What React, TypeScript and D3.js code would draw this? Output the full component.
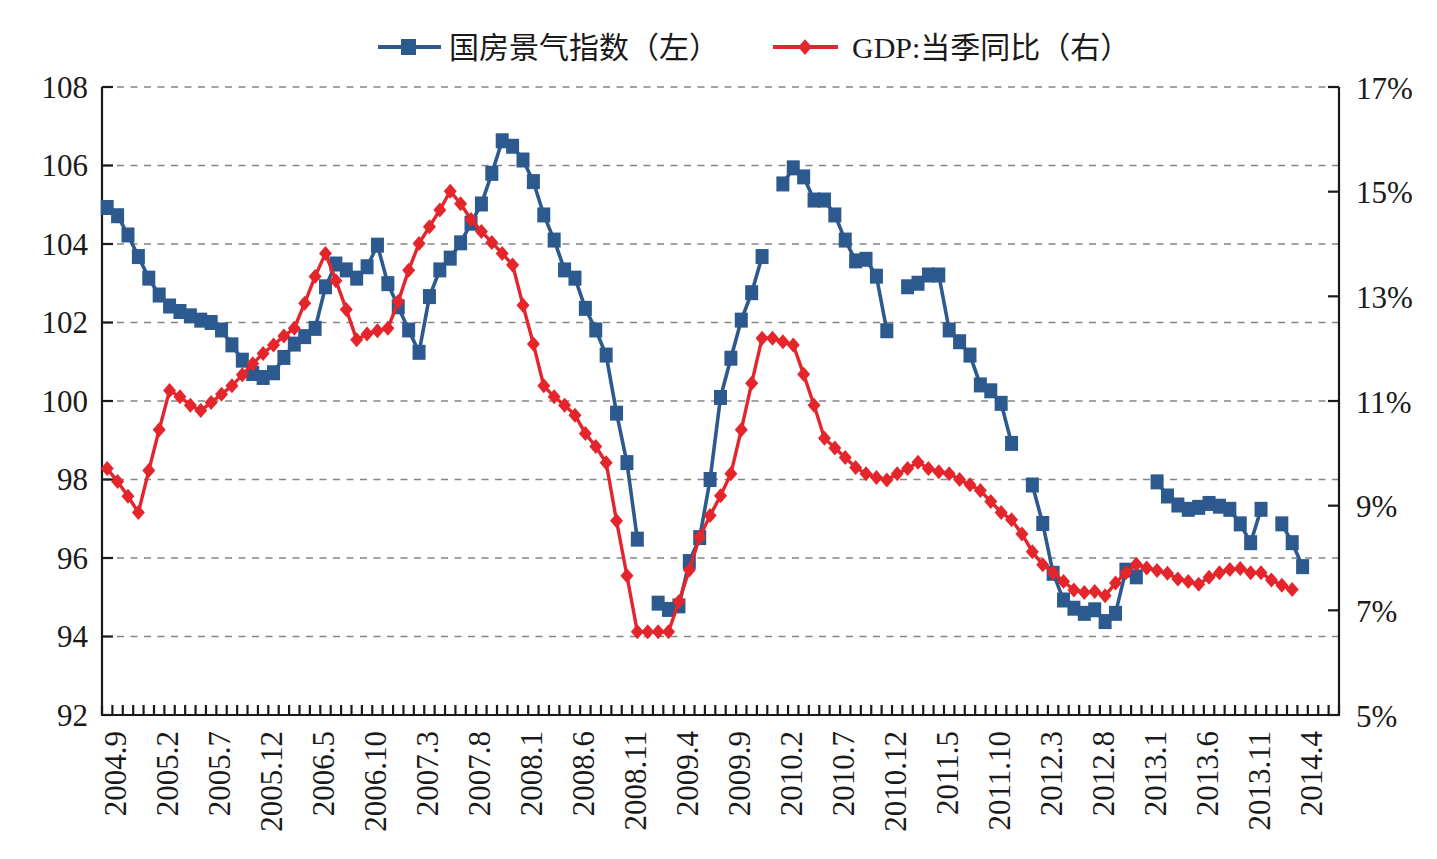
import React from "react";
import * as d3 from "d3";

// Monthly categories from 2004.9; the axis runs three empty months past the last value.
const startYear = 2004;
const startMonth = 9;
const monthCount = 119;

const tickLabels = [
  "2004.9", "2005.2", "2005.7", "2005.12", "2006.5", "2006.10", "2007.3", "2007.8",
  "2008.1", "2008.6", "2008.11", "2009.4", "2009.9", "2010.2", "2010.7", "2010.12",
  "2011.5", "2011.10", "2012.3", "2012.8", "2013.1", "2013.6", "2013.11", "2014.4",
];

const leftTicks = [92, 94, 96, 98, 100, 102, 104, 106, 108];
const rightTicks = [5, 7, 9, 11, 13, 15, 17];

// 国房景气指数 (left axis); January values are not published after 2008.
const housingIndex: (number | null)[] = [
  104.93, 104.72, 104.23, 103.68, 103.13, 102.7, 102.42, 102.28, 102.17, 102.06,
  102.0, 101.81, 101.43, 101.04, 100.7, 100.6, 100.72, 101.11, 101.45, 101.64,
  101.85, 102.91, 103.49, 103.34, 103.13, 103.42, 103.97, 102.99, 102.4, 101.81,
  101.24, 102.66, 103.34, 103.64, 104.03, 104.53, 105.02, 105.8, 106.63, 106.49,
  106.14, 105.59, 104.74, 104.1, 103.34, 103.13, 102.36, 101.81, 101.17, 99.69,
  98.43, 96.48, null, 94.85, 94.69, 94.78, 95.91, 96.52, 98.0, 100.09,
  101.09, 102.06, 102.76, 103.68, null, 105.53, 105.94, 105.71, 105.12, 105.12,
  104.74, 104.1, 103.57, 103.61, 103.18, 101.79, null, 102.91, 103.0, 103.21,
  103.21, 101.81, 101.51, 101.17, 100.41, 100.26, 99.94, 98.92, null, 97.86,
  96.88, 95.61, 94.93, 94.72, 94.59, 94.68, 94.38, 94.59, 95.69, 95.52,
  null, 97.94, 97.58, 97.35, 97.24, 97.29, 97.39, 97.32, 97.24, 96.87,
  96.39, 97.24, null, 96.87, 96.39, 95.78,
];

// GDP 当季同比, % (right axis)
const gdpYoY: number[] = [
  9.71, 9.46, 9.18, 8.87, 9.67, 10.45, 11.2, 11.08, 10.92, 10.82,
  10.97, 11.13, 11.29, 11.5, 11.71, 11.91, 12.07, 12.24, 12.39, 12.87,
  13.38, 13.82, 13.3, 12.75, 12.17, 12.28, 12.34, 12.39, 12.9, 13.5,
  14.01, 14.33, 14.65, 15.01, 14.77, 14.47, 14.24, 14.03, 13.82, 13.6,
  12.83, 12.09, 11.29, 11.08, 10.92, 10.73, 10.38, 10.13, 9.82, 8.71,
  7.66, 6.59, 6.59, 6.59, 6.59, 7.17, 7.77, 8.4, 8.81, 9.19,
  9.61, 10.45, 11.34, 12.2, 12.2, 12.13, 12.07, 11.51, 10.92, 10.29,
  10.1, 9.92, 9.73, 9.61, 9.54, 9.49, 9.61, 9.71, 9.83, 9.71,
  9.65, 9.61, 9.5, 9.4, 9.29, 9.08, 8.87, 8.73, 8.46, 8.12,
  7.87, 7.72, 7.55, 7.39, 7.34, 7.36, 7.28, 7.52, 7.72, 7.88,
  7.81, 7.76, 7.71, 7.6, 7.55, 7.5, 7.63, 7.72, 7.78, 7.8,
  7.72, 7.72, 7.58, 7.48, 7.4,
];

const months: string[] = d3.range(monthCount).map((k) => {
  const m = startMonth - 1 + k;
  return `${startYear + Math.floor(m / 12)}.${(m % 12) + 1}`;
});

const BLUE = "#2D5A8E";
const RED = "#E4252C";
const SERIF = "'Liberation Serif', 'Times New Roman', serif";
const CJK = "'Liberation Serif', 'Noto Sans CJK SC', sans-serif";

const plot = { left: 102, right: 1339, top: 87, bottom: 715 };

export default function App() {
  const x = d3.scaleBand<string>().domain(months).range([plot.left, plot.right]).padding(0);
  const cx = (i: number) => (x(months[i]) as number) + x.bandwidth() / 2;
  const yL = d3.scaleLinear().domain([92, 108]).range([plot.bottom, plot.top]);
  const yR = d3.scaleLinear().domain([5, 17]).range([plot.bottom, plot.top]);

  const housingLine = d3
    .line<number | null>()
    .defined((v) => v != null)
    .x((_, i) => cx(i))
    .y((v) => yL(v as number));
  const gdpLine = d3
    .line<number>()
    .x((_, i) => cx(i))
    .y((v) => yR(v));

  const diamond = "M0,-7.5 L6.5,0 L0,7.5 L-6.5,0 Z";

  return (
    <svg
      width={1437}
      height={859}
      style={{ position: "absolute", left: 0, top: 0, background: "#fff" }}
    >
      {/* dashed horizontal gridlines */}
      {leftTicks.slice(1).map((t) => (
        <line
          key={`g${t}`}
          x1={plot.left}
          x2={plot.right}
          y1={yL(t)}
          y2={yL(t)}
          stroke="#858585"
          strokeWidth={1.6}
          strokeDasharray="7 6.5"
          strokeDashoffset={-1.5}
        />
      ))}

      {/* axes */}
      <g stroke="#1a1a1a" strokeWidth={2.2} fill="none">
        <line x1={plot.left} x2={plot.left} y1={plot.top} y2={plot.bottom} />
        <line x1={plot.right} x2={plot.right} y1={plot.top} y2={plot.bottom} />
        <line x1={plot.left - 1} x2={plot.right + 1} y1={plot.bottom} y2={plot.bottom} />
        {leftTicks.map((t) => (
          <line key={`lt${t}`} x1={plot.left} x2={plot.left + 11} y1={yL(t)} y2={yL(t)} />
        ))}
        {rightTicks.map((t) => (
          <line key={`rt${t}`} x1={plot.right - 11} x2={plot.right} y1={yR(t)} y2={yR(t)} />
        ))}
        {d3.range(monthCount + 1).map((k) => {
          const xx = plot.left + k * x.bandwidth();
          return <line key={`bt${k}`} x1={xx} x2={xx} y1={plot.bottom} y2={plot.bottom - 10} />;
        })}
      </g>

      {/* axis labels */}
      <g fontFamily={SERIF} fontSize={31} fill="#1a1a1a">
        {leftTicks.map((t) => (
          <text key={`ll${t}`} x={88} y={yL(t)} dy="0.34em" textAnchor="end">
            {t}
          </text>
        ))}
        {rightTicks.map((t) => (
          <text key={`rl${t}`} x={1356} y={yR(t)} dy="0.38em" textAnchor="start">
            {`${t}%`}
          </text>
        ))}
        {tickLabels.map((lab) => {
          const i = months.indexOf(lab);
          const bx = cx(i) + 19;
          return (
            <text
              key={`xl${lab}`}
              transform={`translate(${bx},731) rotate(-90)`}
              textAnchor="end"
            >
              {lab}
            </text>
          );
        })}
      </g>

      {/* 国房景气指数 */}
      <path d={housingLine(housingIndex) ?? ""} fill="none" stroke={BLUE} strokeWidth={3.6} />
      {housingIndex.map((v, i) =>
        v == null ? null : (
          <rect key={`hs${i}`} x={cx(i) - 6.5} y={yL(v) - 7.5} width={13} height={15} fill={BLUE} />
        )
      )}

      {/* GDP 当季同比 */}
      <path d={gdpLine(gdpYoY) ?? ""} fill="none" stroke={RED} strokeWidth={3.4} />
      {gdpYoY.map((v, i) => (
        <path key={`gd${i}`} d={diamond} transform={`translate(${cx(i)},${yR(v)})`} fill={RED} />
      ))}

      {/* legend */}
      <g>
        <line x1={378} x2={441} y1={47} y2={47} stroke={BLUE} strokeWidth={4} />
        <rect x={401} y={39} width={15} height={16} fill={BLUE} />
        <text x={449} y={47} dy="0.36em" fontFamily={CJK} fontSize={30} fill="#1a1a1a">
          国房景气指数（左）
        </text>
        <line x1={773} x2={838} y1={47} y2={47} stroke={RED} strokeWidth={4} />
        <path d={diamond} transform="translate(805,47) scale(1.05)" fill={RED} />
        <text x={852} y={47} dy="0.36em" fontFamily={CJK} fontSize={30} fill="#1a1a1a">
          GDP:当季同比（右）
        </text>
      </g>
    </svg>
  );
}
